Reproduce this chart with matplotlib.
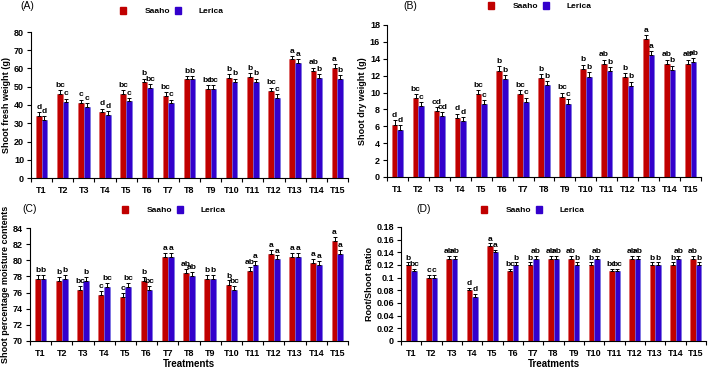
import numpy as np
import matplotlib
matplotlib.use("Agg")
import matplotlib.pyplot as plt
from matplotlib.patches import Patch

plt.rcParams['font.family'] = ['Liberation Sans', 'DejaVu Sans']
plt.rcParams['font.weight'] = 'bold'

treatments = [f"T{i}" for i in range(1, 16)]

# --- (A) shoot fresh weight ---
fresh_saaho = [34, 46, 41, 36, 46, 52.5, 45, 54, 49, 55, 55.5, 47.5, 65, 58.5, 60.5]
fresh_lerica = [32, 41.5, 39, 34.5, 42, 49.5, 41, 54, 49, 52.5, 52.5, 44, 63, 55, 54.5]
fresh_let_s = ["d", "bc", "c", "d", "bc", "b", "bc", "b", "bc", "b", "b", "bc", "a", "ab", "a"]
fresh_let_l = ["d", "c", "c", "d", "c", "bc", "c", "b", "bc", "b", "b", "c", "a", "b", "b"]

# --- (B) shoot dry weight ---
dry_saaho = [6.2, 9.3, 7.8, 7.0, 9.8, 12.6, 9.8, 11.7, 9.5, 12.8, 13.4, 11.8, 16.3, 13.4, 13.4]
dry_lerica = [5.6, 8.4, 7.2, 6.6, 8.6, 11.6, 8.9, 10.9, 8.7, 11.9, 12.5, 10.8, 14.4, 12.7, 13.6]
dry_let_s = ["d", "bc", "cd", "d", "bc", "b", "bc", "b", "bc", "b", "ab", "b", "a", "ab", "ab"]
dry_let_l = ["d", "c", "cd", "d", "c", "b", "c", "b", "c", "b", "b", "b", "a", "b", "ab"]

# --- (C) moisture contents ---
moist_saaho = [77.7, 77.4, 76.3, 75.7, 75.4, 77.4, 80.4, 78.4, 77.7, 77.0, 78.7, 80.8, 80.4, 79.7, 82.4]
moist_lerica = [77.7, 77.7, 77.4, 76.7, 76.7, 76.3, 80.4, 78.1, 77.7, 76.3, 79.4, 80.1, 80.4, 79.4, 80.8]
moist_let_s = ["b", "b", "bc", "c", "c", "b", "a", "ab", "b", "b", "ab", "a", "a", "a", "a"]
moist_let_l = ["b", "b", "b", "bc", "bc", "bc", "a", "ab", "b", "bc", "a", "a", "a", "a", "a"]

# --- (D) root/shoot ratio ---
rs_saaho = [0.12, 0.10, 0.13, 0.08, 0.15, 0.11, 0.12, 0.13, 0.13, 0.12, 0.11, 0.13, 0.12, 0.12, 0.13]
rs_lerica = [0.11, 0.10, 0.13, 0.07, 0.14, 0.12, 0.13, 0.13, 0.12, 0.13, 0.11, 0.13, 0.12, 0.13, 0.12]
rs_let_s = ["b", "c", "ab", "d", "a", "bc", "b", "ab", "ab", "b", "bc", "ab", "b", "b", "ab"]
rs_let_l = ["bc", "c", "ab", "d", "a", "b", "ab", "ab", "b", "ab", "bc", "ab", "b", "ab", "b"]

RED = "#C00000"
BLUE = "#3300CC"

fig = plt.figure(figsize=(7.08, 3.68), dpi=100)
W, H = 708, 368


def px_axes(l, r, t, b):
    return fig.add_axes([l / W, (H - b) / H, (r - l) / W, (b - t) / H])


def panel(ax, s, l, ls, ll, err, ylim, step, ylabel, fmt, xlabel=None):
    x = np.arange(len(treatments))
    w = 0.27
    ax.bar(x - w / 2, s, w, color=RED, edgecolor="#e06060", linewidth=0.4, zorder=2)
    ax.bar(x + w / 2, l, w, color=BLUE, edgecolor="#7070e0", linewidth=0.4, zorder=2)
    lo = ylim[0]
    ax.errorbar(x - w / 2, s, yerr=[np.zeros(len(s)), np.full(len(s), err)],
                fmt="none", ecolor="black", elinewidth=0.7, capsize=1.5, capthick=0.7, zorder=3)
    ax.errorbar(x + w / 2, l, yerr=[np.zeros(len(l)), np.full(len(l), err)],
                fmt="none", ecolor="black", elinewidth=0.7, capsize=1.5, capthick=0.7, zorder=3)
    pad = (ylim[1] - lo) * 0.008
    for i in range(len(x)):
        ax.text(x[i] - w / 2, s[i] + err + pad, ls[i], ha="center", va="bottom",
                fontsize=6, fontweight="bold")
        ax.text(x[i] + w / 2, l[i] + err + pad, ll[i], ha="center", va="bottom",
                fontsize=6, fontweight="bold")
    ax.set_xlim(-0.5, len(x) - 0.5)
    ax.set_ylim(*ylim)
    ax.set_yticks(np.arange(ylim[0], ylim[1] + step / 2, step))
    ax.yaxis.set_major_formatter(plt.FuncFormatter(lambda v, p: fmt(v)))
    ax.set_xticks(x)
    ax.set_xticklabels(treatments)
    ax.set_xticks(np.arange(-0.5, len(x), 1), minor=True)
    ax.tick_params(axis="x", which="major", length=0, labelsize=6.5, pad=6)
    ax.tick_params(axis="x", which="minor", length=3, width=0.8)
    ax.tick_params(axis="y", length=3, width=0.8, labelsize=6.5, pad=2)
    for lab in ax.get_xticklabels() + ax.get_yticklabels():
        lab.set_fontweight("bold")
    for sp in ["top", "right"]:
        ax.spines[sp].set_visible(False)
    for sp in ["left", "bottom"]:
        ax.spines[sp].set_linewidth(0.8)
    ax.set_ylabel(ylabel, fontsize=6.5, fontweight="bold", labelpad=2)
    if xlabel:
        ax.set_xlabel(xlabel, fontsize=7, fontweight="bold", labelpad=0.5)


def legend_at(xc, yc):
    handles = [Patch(color=RED), Patch(color=BLUE)]
    fig.legend(handles, ["Saaho", "Lerica"], loc="center",
               bbox_to_anchor=(xc / W, (H - yc) / H), ncol=2, frameon=False,
               handlelength=0.7, handleheight=0.9, handletextpad=2.2,
               columnspacing=0.6, prop={"size": 6, "weight": "bold"})


axA = px_axes(31, 348, 32, 178)
panel(axA, fresh_saaho, fresh_lerica, fresh_let_s, fresh_let_l, 2.0, (0, 80), 10,
      "Shoot fresh weight (g)", lambda v: f"{v:.0f}")
axB = px_axes(387, 701, 25, 177)
panel(axB, dry_saaho, dry_lerica, dry_let_s, dry_let_l, 0.5, (0, 18), 2,
      "Shoot dry weight (g)", lambda v: f"{v:.0f}")
axC = px_axes(30, 348, 228, 341)
panel(axC, moist_saaho, moist_lerica, moist_let_s, moist_let_l, 0.5, (70, 84), 2,
      "Shoot percentage moisture contents", lambda v: f"{v:.0f}", xlabel="Treatments")
axD = px_axes(401, 706, 227, 341)
panel(axD, rs_saaho, rs_lerica, rs_let_s, rs_let_l, 0.004, (0, 0.18), 0.02,
      "Root/Shoot Ratio", lambda v: "0" if abs(v) < 1e-9 else f"{v:.2f}".rstrip("0").rstrip("."),
      xlabel="Treatments")

fig.text(20 / W, 1 - 6 / H, "(A)", fontsize=7.5, fontweight="normal", va="center")
fig.text(403 / W, 1 - 6 / H, "(B)", fontsize=7.5, fontweight="normal", va="center")
fig.text(22 / W, 1 - 209 / H, "(C)", fontsize=7.5, fontweight="normal", va="center")
fig.text(416 / W, 1 - 209 / H, "(D)", fontsize=7.5, fontweight="normal", va="center")

legend_at(172, 11)
legend_at(540, 6)
legend_at(174, 210)
legend_at(533, 210)

fig.savefig("out.png", dpi=100)
